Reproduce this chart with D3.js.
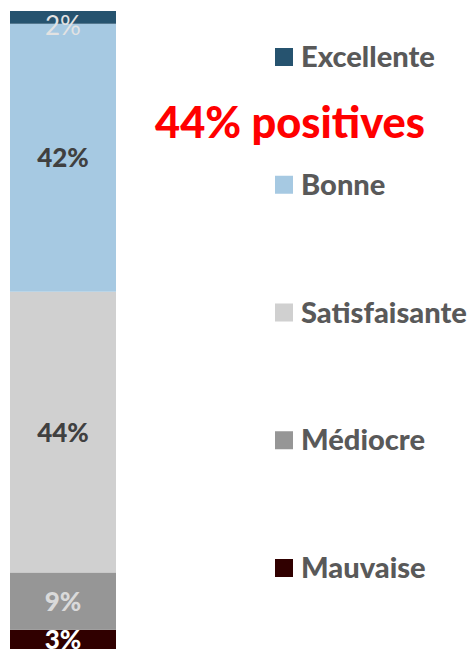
<!DOCTYPE html>
<html>
<head>
<meta charset="utf-8">
<script src="https://cdn.jsdelivr.net/npm/d3@7"></script>
<style>
  html, body { margin: 0; padding: 0; background: #fff; }
  svg { display: block; font-family: Lato, "Open Sans", sans-serif; }
</style>
</head>
<body>
<script>
// Data (bottom to top of the stacked bar)
const categories = ["Mauvaise", "Médiocre", "Satisfaisante", "Bonne", "Excellente"];
const values = [3, 9, 44, 42, 2];
const labels = ["3%", "9%", "44%", "42%", "2%"];
const colors = ["#300000", "#969696", "#D0D0D0", "#A6C9E2", "#26536F"];
const labelColors = ["#FFFFFF", "#DADADA", "#404040", "#404040", "#E2E2E2"];
const labelWeights = ["900", "900", "900", "900", "normal"];
const legendOrder = ["Excellente", "Bonne", "Satisfaisante", "Médiocre", "Mauvaise"];
const title = "44% positives";

const W = 471, H = 649;
const svg = d3.select("body").append("svg").attr("width", W).attr("height", H);

const y = d3.scaleLinear().domain([0, 100]).range([649, 11]);
const x = d3.scaleBand().domain(["all"]).range([10, 116]).padding(0);

let cum = 0;
const segs = values.map((v, i) => {
  const s = { cat: categories[i], y0: cum, y1: cum + v, v, i };
  cum += v;
  return s;
});

svg.selectAll("rect.seg").data(segs).enter().append("rect")
  .attr("class", "seg")
  .attr("x", x("all"))
  .attr("width", x.bandwidth())
  .attr("y", d => y(d.y1))
  .attr("height", d => y(d.y0) - y(d.y1))
  .attr("fill", d => colors[d.i]);

const labelSize = 26;
svg.selectAll("text.lbl").data(segs).enter().append("text")
  .attr("class", "lbl")
  .attr("x", x("all") + x.bandwidth() / 2)
  .attr("y", d => {
    const c = (y(d.y0) + y(d.y1)) / 2;
    return d.i === 4 ? c + 9 + 18 * 0.5 : c + labelSize * 0.37;
  })
  .attr("text-anchor", "middle")
  .attr("font-size", labelSize)
  .attr("font-weight", d => labelWeights[d.i])
  .attr("fill", d => labelColors[d.i])
  .text(d => labels[d.i]);

// Legend
const ly = d3.scalePoint().domain(legendOrder).range([57, 568]);
const lg = svg.selectAll("g.leg").data(legendOrder).enter().append("g")
  .attr("class", "leg")
  .attr("transform", d => `translate(275,${ly(d)})`);
lg.append("rect").attr("x", 0).attr("y", -9).attr("width", 18).attr("height", 18)
  .attr("fill", d => colors[categories.indexOf(d)]);
const lt = lg.append("text").attr("x", 26).attr("y", 10)
  .attr("font-size", 26).attr("font-weight", "900").attr("fill", "#595959")
  .text(d => d);
// fit legend font to reference width of "Excellente" (~134px)
const exNode = lt.filter(d => d === "Excellente").node();
const exW = exNode.getComputedTextLength();
const legSize = 26 * 134 / exW;
lt.attr("font-size", legSize);

// Title
const t = svg.append("text")
  .attr("x", 290).attr("y", 138)
  .attr("text-anchor", "middle")
  .attr("font-size", 42).attr("font-weight", "900").attr("fill", "#FF0000")
  .text(title);
const tw = t.node().getComputedTextLength();
t.attr("font-size", 42 * 270 / tw);
</script>
</body>
</html>
